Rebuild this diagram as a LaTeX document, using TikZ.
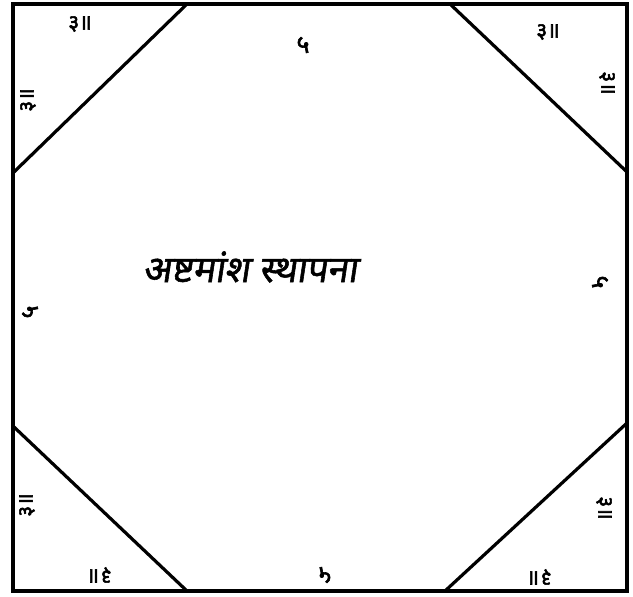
\documentclass[tikz,border=0pt]{standalone}
\usepackage{fontspec}
\newfontfamily\deva[Script=Devanagari,FakeBold=2.5]{Noto Sans}
\newfontfamily\devasl[Script=Devanagari,FakeSlant=0.15,FakeBold=1.5]{Noto Sans}
\begin{document}
\begin{tikzpicture}[x=1pt,y=-1pt,
  frame/.style={line width=3.8pt},
  cut/.style={line width=3.2pt},
  num/.style={font=\deva\fontsize{21}{21}\selectfont, inner sep=0pt},
  side/.style={font=\deva\fontsize{25}{25}\selectfont, inner sep=0pt},
  title/.style={font=\devasl\fontsize{37}{37}\selectfont, inner sep=0pt}]
\useasboundingbox (0,0) rectangle (633,597);
\coordinate (tl) at (13,4);
\coordinate (br) at (627,591);
\draw[frame] (tl) rectangle (br);
\coordinate (a1) at (14,172); \coordinate (a2) at (187,4);
\coordinate (b1) at (450,4);  \coordinate (b2) at (627,172);
\coordinate (c1) at (14,427); \coordinate (c2) at (187,591);
\coordinate (d1) at (445,591);\coordinate (d2) at (627,423);
\draw[cut] (a1) -- (a2);
\draw[cut] (b1) -- (b2);
\draw[cut] (c1) -- (c2);
\draw[cut] (d1) -- (d2);
% corner labels
\node[num] (n1) at (80,24) {३॥};
\node[num, rotate=90] (n2) at (28,100) {३॥};
\node[num] (n3) at (548,32) {३॥};
\node[num, rotate=-90] (n4) at (607,83) {३॥};
\node[num, rotate=90] (n5) at (27,505) {३॥};
\node[num, rotate=180] (n6) at (100,575) {३॥};
\node[num, rotate=-90] (n7) at (604,508) {३॥};
\node[num, rotate=180] (n8) at (540,577) {३॥};
% side labels
\node[side] (s1) at (303,45) {५};
\node[side, rotate=180] (s2) at (325,575) {५};
\node[side, rotate=90] (s3) at (30,312) {५};
\node[side, rotate=-90] (s4) at (600,282) {५};
% title
\node[title] (t) at (250,267) {अष्टमांश स्थापना};
\end{tikzpicture}
\end{document}
